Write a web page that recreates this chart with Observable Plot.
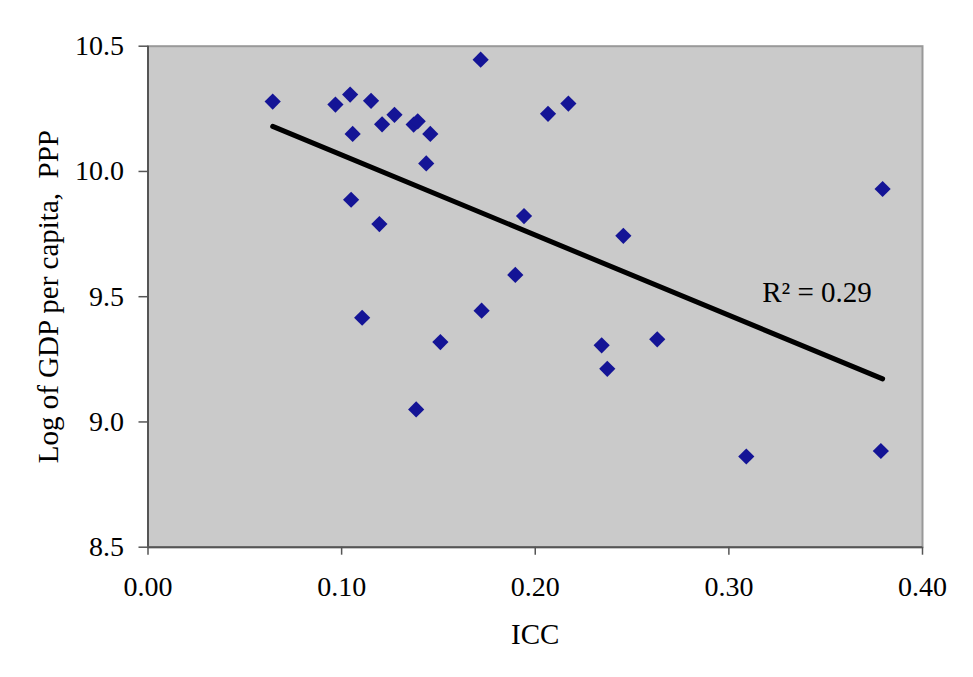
<!DOCTYPE html>
<html>
<head>
<meta charset="utf-8">
<script src="https://cdn.jsdelivr.net/npm/d3@7"></script>
<script src="https://cdn.jsdelivr.net/npm/@observablehq/plot@0.6"></script>
<style>
  html, body { margin: 0; padding: 0; background: #fff; }
  #chart svg { display: block; }
</style>
</head>
<body>
<div id="chart"></div>
<script>
// ICC values (x) and Log of GDP per capita, PPP (y)
const icc = [0.0644, 0.0968, 0.1044, 0.1152, 0.1273, 0.1209, 0.1372, 0.1393, 0.1458, 0.1057,
             0.1437, 0.1049, 0.1195, 0.1718, 0.2066, 0.2171, 0.1942, 0.2455, 0.3794, 0.1897,
             0.1106, 0.1385, 0.1510, 0.1723, 0.2343, 0.2372, 0.2630, 0.3090, 0.3785];
const gdp = [10.279, 10.267, 10.307, 10.282, 10.226, 10.188, 10.187, 10.200, 10.150, 10.150,
             10.032, 9.887, 9.790, 10.446, 10.230, 10.271, 9.822, 9.743, 9.930, 9.587,
             9.416, 9.050, 9.319, 9.444, 9.306, 9.212, 9.330, 8.862, 8.884];
const xTicks = [0, 0.1, 0.2, 0.3, 0.4];
const yTicks = [8.5, 9.0, 9.5, 10.0, 10.5];
const annotation = [{x: 0.3455, y: 9.479, text: "R\u00B2 = 0.29"}];

const data = icc.map((x, i) => ({x, y: gdp[i]}));
const font = "Liberation Serif, Times New Roman, serif";

const chart = Plot.plot({
  width: 973,
  height: 677,
  marginLeft: 147.5,
  marginRight: 51,
  marginTop: 45.7,
  marginBottom: 130.3,
  style: {fontFamily: font, fontSize: "28px", color: "#000", background: "#fff"},
  x: {domain: [0, 0.4]},
  y: {domain: [8.5, 10.5]},
  marks: [
    Plot.frame({fill: "#cacaca", stroke: "#999", strokeWidth: 2}),
    Plot.ruleX([0], {stroke: "#555", strokeWidth: 2}),
    Plot.ruleY([8.5], {stroke: "#555", strokeWidth: 2}),
    Plot.axisX({ticks: xTicks, tickFormat: d3.format(".2f"), tickSize: 8, tickPadding: 21,
      stroke: "#555", strokeWidth: 1.5,
      label: "ICC", labelAnchor: "center", labelArrow: "none", labelOffset: 97,
      fontSize: 28}),
    Plot.axisY({ticks: yTicks, tickFormat: d3.format(".1f"), tickSize: 9, tickPadding: 15,
      stroke: "#555", strokeWidth: 1.5,
      label: "Log of GDP per capita,  PPP", labelAnchor: "center", labelArrow: "none", labelOffset: 111,
      fontSize: 28}),
    Plot.linearRegressionY(data, {x: "x", y: "y", ci: 0, stroke: "#000", strokeWidth: 5}),
    Plot.dot(data, {x: "x", y: "y", symbol: "diamond2", r: 7.3, fill: "#141496", stroke: "none"}),
    Plot.text(annotation, {x: "x", y: "y", text: "text", fontSize: 29, lineAnchor: "bottom", textAnchor: "middle", fill: "#000"})
  ]
});
document.getElementById("chart").appendChild(chart);
// axis title font size
d3.select(chart).selectAll("g[aria-label='x-axis label'] text, g[aria-label='y-axis label'] text").attr("font-size", 29);
</script>
</body>
</html>
